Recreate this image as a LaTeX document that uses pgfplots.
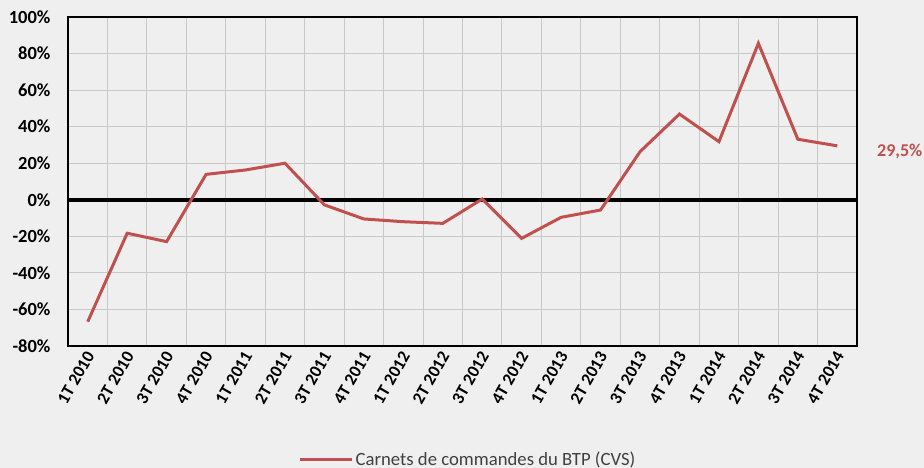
\documentclass[border=0pt]{standalone}
\usepackage{fontspec}
\setmainfont{Carlito}
\usepackage{pgfplots}
\pgfplotsset{compat=1.18}
\definecolor{bg}{HTML}{EFEFEF}
\definecolor{gridc}{HTML}{C8C8C8}
\definecolor{ser}{HTML}{C0504D}
\begin{document}
\begin{tikzpicture}[x=1pt,y=1pt]
\fill[bg] (0,0) rectangle (924,468);
\useasboundingbox (0,0) rectangle (924,468);
\begin{axis}[
  at={(68pt,122pt)}, anchor=south west,
  width=789pt, height=329pt, scale only axis,
  xmin=0, xmax=20, ymin=-80, ymax=100,
  axis background/.style={fill=bg},
  axis line style={black, line width=1.6pt},
  xtick={0.5,1.5,...,19.5},
  xticklabels={1T 2010,2T 2010,3T 2010,4T 2010,1T 2011,2T 2011,3T 2011,4T 2011,1T 2012,2T 2012,3T 2012,4T 2012,1T 2013,2T 2013,3T 2013,4T 2013,1T 2014,2T 2014,3T 2014,4T 2014},
  minor xtick={1,2,...,19},
  xminorgrids=true,
  ytick={-80,-60,...,100},
  ymajorgrids=true,
  grid style={gridc, line width=1pt},
  minor grid style={gridc, line width=1pt},
  major tick length=0pt, minor tick length=0pt,
  /pgf/number format/assume math mode=true,
  yticklabel={\pgfmathprintnumber{\tick}\%},
  yticklabel style={font=\fontsize{18.5}{20}\selectfont\bfseries, xshift=-14pt},
  xticklabel style={font=\fontsize{17.5}{20}\selectfont\bfseries, xshift=3pt, yshift=-6pt, rotate=60, anchor=east, inner sep=1pt},
  clip=false,
  legend style={at={(0.507,-0.345)}, anchor=center, draw=none, fill=none, font=\fontsize{18.7}{20}\selectfont, text=black!75, inner sep=0pt},
  legend image code/.code={\draw[#1] (0pt,0pt) -- (52pt,0pt);},
]
\addplot[black, line width=4pt, forget plot] coordinates {(0,0) (20,0)};
\addplot[ser, line width=3pt] coordinates {
(0.5,-66.7) (1.5,-18.3) (2.5,-22.9) (3.5,13.9) (4.5,16.3) (5.5,20.0)
(6.5,-2.8) (7.5,-10.5) (8.5,-12.0) (9.5,-12.9) (10.5,0.4) (11.5,-21.1)
(12.5,-9.6) (13.5,-5.6) (14.5,26.3) (15.5,46.9) (16.5,31.8) (17.5,85.6)
(18.5,33.1) (19.5,29.5)};
\addlegendentry{Carnets de commandes du BTP (CVS)}
\node[anchor=west, inner sep=0pt, text=ser, font=\fontsize{18}{20}\selectfont\bfseries, xshift=20pt, yshift=-6pt] at (axis cs:20,29.5) {29,5\%};
\end{axis}
\end{tikzpicture}
\end{document}
